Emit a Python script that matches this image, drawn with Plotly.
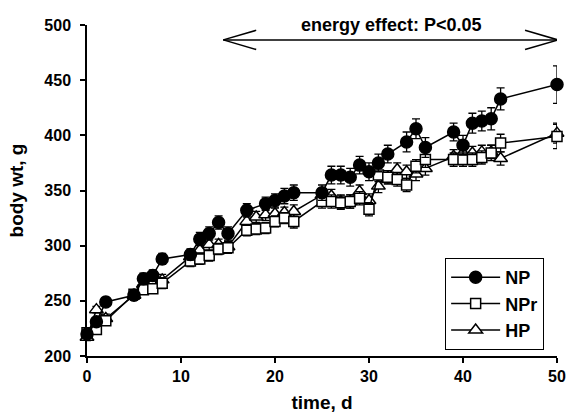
import plotly.graph_objects as go

np_days = [0, 1, 2, 5, 6, 7, 8, 11, 12, 13, 14, 15, 17, 19, 20, 21, 22, 25, 26, 27, 28,
           29, 30, 31, 32, 34, 35, 36, 39, 40, 41, 42, 43, 44, 50]
np_wt = [220, 231, 249, 255, 270, 273, 288, 292, 306, 311, 321, 311, 332, 338, 341, 345, 348,
         348, 364, 364, 362, 373, 367, 375, 383, 394, 406, 389, 403, 391, 411, 413, 415, 433, 446]
np_err = [3, 4, 4, 4, 5, 5, 5, 5, 6, 6, 6, 6, 6, 6, 6, 7, 7, 7, 8, 8, 8, 8, 8, 8, 8,
          9, 9, 9, 8, 9, 9, 9, 10, 10, 17]

days = [0, 1, 2, 5, 6, 7, 8, 11, 12, 13, 14, 15, 17, 18, 19, 20, 21, 22, 25, 26, 27, 28,
        29, 30, 31, 32, 33, 34, 35, 36, 39, 40, 41, 42, 43, 44, 50]
npr_wt = [221, 224, 232, 256, 260, 261, 266, 286, 288, 291, 297, 298, 314, 315, 316, 322, 325,
          322, 340, 340, 339, 340, 343, 333, 364, 362, 360, 355, 372, 378, 378, 378, 378, 380,
          384, 393, 399]
npr_err = [3, 3, 4, 4, 4, 4, 5, 5, 5, 5, 5, 5, 5, 5, 5, 5, 5, 6, 6, 6, 6, 6, 6, 6, 6, 6,
           6, 6, 6, 7, 6, 6, 6, 6, 7, 8, 11]
hp_wt = [217, 242, 234, 255, 265, 266, 269, 290, 296, 301, 301, 299, 322, 326, 328, 329, 330,
         331, 346, 345, 340, 340, 349, 341, 354, 362, 369, 367, 365, 370, 381, 384, 384, 385,
         385, 379, 402]
hp_err = [3, 3, 4, 4, 4, 4, 5, 5, 5, 5, 5, 5, 5, 5, 5, 5, 5, 6, 6, 6, 6, 6, 6, 6, 6, 6,
          6, 6, 6, 6, 6, 6, 6, 6, 6, 6, 9]

x_ticks = [0, 10, 20, 30, 40, 50]
y_ticks = [200, 250, 300, 350, 400, 450, 500]

FONT = "Liberation Sans, Arial, sans-serif"

fig = go.Figure()


def add_series(name, x, y, err, symbol, fill, size):
    fig.add_trace(go.Scatter(
        x=x, y=y, name=name, mode="lines+markers",
        line=dict(color="black", width=1.5),
        marker=dict(symbol=symbol, size=size, color=fill,
                    line=dict(color="black", width=1.5)),
        error_y=dict(type="data", array=err, visible=True, color="black",
                     thickness=1.3, width=4),
        cliponaxis=False,
    ))


add_series("HP", days, hp_wt, hp_err, "triangle-up", "white", 12)
add_series("NPr", days, npr_wt, npr_err, "square", "white", 10)
add_series("NP", np_days, np_wt, np_err, "circle", "black", 12)

# double-headed open arrow
ay = 0.955
shapes = [
    dict(type="line", xref="x", yref="paper", x0=14.5, x1=50.1, y0=ay, y1=ay),
    dict(type="line", xref="x", yref="paper", x0=14.5, x1=18.0, y0=ay, y1=ay + 0.029),
    dict(type="line", xref="x", yref="paper", x0=14.5, x1=18.0, y0=ay, y1=ay - 0.029),
    dict(type="line", xref="x", yref="paper", x0=50.1, x1=46.6, y0=ay, y1=ay + 0.029),
    dict(type="line", xref="x", yref="paper", x0=50.1, x1=46.6, y0=ay, y1=ay - 0.029),
]
for s in shapes:
    s["line"] = dict(color="black", width=1.5)

fig.update_layout(
    width=566, height=414,
    margin=dict(l=87, r=9, t=25, b=58, autoexpand=False),
    paper_bgcolor="white", plot_bgcolor="white",
    font=dict(family=FONT, color="black"),
    shapes=shapes,
    hovermode=False,
    annotations=[dict(text="energy effect: P<0.05", xref="x", yref="paper", x=32.4, y=1.0,
                      showarrow=False, xanchor="center", yanchor="middle",
                      font=dict(size=18, family=FONT, color="black", weight="bold"))],
    legend=dict(x=0.762, y=0.296, xanchor="left", yanchor="top",
                bordercolor="black", borderwidth=1, bgcolor="white",
                traceorder="reversed",
                font=dict(size=18, family=FONT, weight="bold"),
                tracegroupgap=0, itemwidth=49),
    xaxis=dict(range=[0, 50], tickvals=x_ticks, showline=True, linecolor="black",
               linewidth=1.5, ticks="outside", ticklen=5, tickwidth=1.5, tickcolor="black",
               showgrid=False, zeroline=False, automargin=False, ticklabeloverflow="allow",
               tickfont=dict(size=16, family=FONT, weight="bold"),
               title=dict(text="time, d", font=dict(size=19, family=FONT, weight="bold"),
                          standoff=12)),
    yaxis=dict(range=[200, 500], tickvals=y_ticks, showline=True, linecolor="black",
               linewidth=1.5, ticks="outside", ticklen=5, tickwidth=1.5, tickcolor="black",
               showgrid=False, zeroline=False, automargin=False, ticklabelstandoff=6,
               tickfont=dict(size=16, family=FONT, weight="bold"),
               title=dict(text="body wt, g", font=dict(size=19, family=FONT, weight="bold"),
                          standoff=16)),
    showlegend=True,
)

fig.write_html(
    "out.html",
    config={"displayModeBar": False},
    post_script="document.body.style.margin='0';document.body.style.overflow='hidden';",
)
